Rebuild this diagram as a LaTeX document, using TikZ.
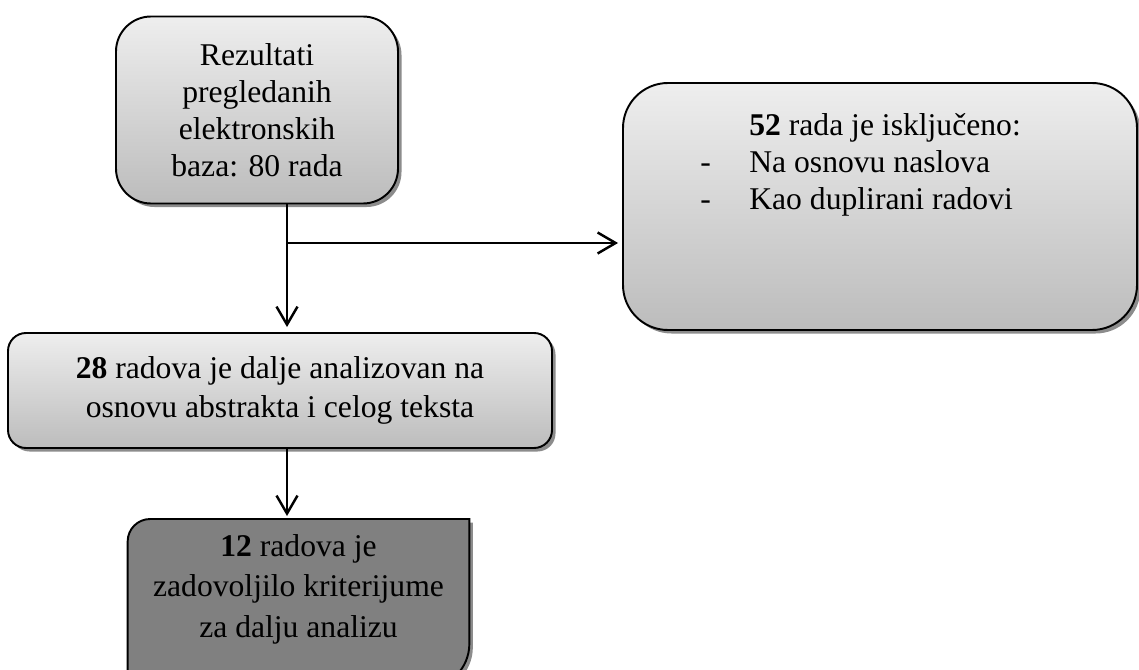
\documentclass[tikz,border=0pt]{standalone}
\usepackage{fontspec}
\setmainfont{Liberation Serif}
\usetikzlibrary{arrows.meta,positioning,shadows}
\definecolor{boxtop}{HTML}{EEEEEE}
\definecolor{boxbottom}{HTML}{BCBCBC}
\definecolor{darkfill}{HTML}{808080}
\newcommand\lastboxpath{(box4.south west) -- ([yshift=-0.45cm]box4.north west)
  arc[start angle=180,end angle=90,radius=0.45cm] -- (box4.north east)
  -- ([yshift=0.9cm]box4.south east) arc[start angle=0,end angle=-90,radius=0.9cm] -- cycle}

\begin{document}
\begin{tikzpicture}[font=\fontsize{18}{21}\selectfont,
  greybox/.style={draw=black, line width=1.1pt, top color=boxtop, bottom color=boxbottom,
    drop shadow={shadow xshift=0.07cm, shadow yshift=-0.07cm, fill=black, opacity=0.45},
    align=center, inner sep=0pt},
  boxtext/.style={inner sep=0pt},
  flow/.style={line width=1.4pt, -{Straight Barb[length=0.36cm,width=0.42cm,line width=1.4pt]}}]
  \useasboundingbox (0,0) rectangle (22.78,-13.4);

  % boxes
  \node[greybox, rounded corners=0.7cm, minimum width=5.64cm, minimum height=3.74cm]
    (box1) at (5.14,-2.2) {Rezultati\\ pregledanih\\ elektronskih\\ baza: 80 rada};
  \node[greybox, rounded corners=0.9cm, minimum width=10.28cm, minimum height=4.94cm]
    (box2) at (17.6,-4.13) {};
  \node[boxtext, anchor=north west, align=left] (box2txt) at (14.0,-2.26)
    {\makebox[0.98cm][l]{}\textbf{52} rada je isključeno:\\
     \makebox[0.98cm][l]{-}Na osnovu naslova\\
     \makebox[0.98cm][l]{-}Kao duplirani radovi};
  \node[greybox, rounded corners=0.36cm, minimum width=10.88cm, minimum height=2.3cm,
    font=\fontsize{18}{22}\selectfont]
    (box3) at (5.6,-7.81) {\textbf{28} radova je dalje analizovan na\\ osnovu abstrakta i celog teksta};
  \node[minimum width=6.82cm, minimum height=3.38cm, anchor=north, inner sep=0pt]
    (box4) at (5.97,-10.38) {};
  \fill[black, opacity=0.45, transform canvas={shift={(0.07cm,-0.07cm)}}] \lastboxpath;
  \draw[line width=1.1pt, fill=darkfill] \lastboxpath;
  \node[boxtext, align=center, below=0.3cm of box4.north, font=\fontsize{18}{23}\selectfont] (box4txt)
    {\textbf{12} radova je\\ zadovoljilo kriterijume\\ za dalju analizu};

  % connectors
  \coordinate (trunk) at (5.74,0);
  \coordinate (split) at (5.74,-4.86);
  \draw[flow, shorten >=0.1cm] (box1.south -| trunk) -- (box3.north -| trunk);
  \draw[flow, shorten >=0.08cm] (split) -- (split -| box2.west);
  \draw[flow, shorten >=0.06cm] (box3.south -| trunk) -- (box4.north -| trunk);
\end{tikzpicture}
\end{document}
